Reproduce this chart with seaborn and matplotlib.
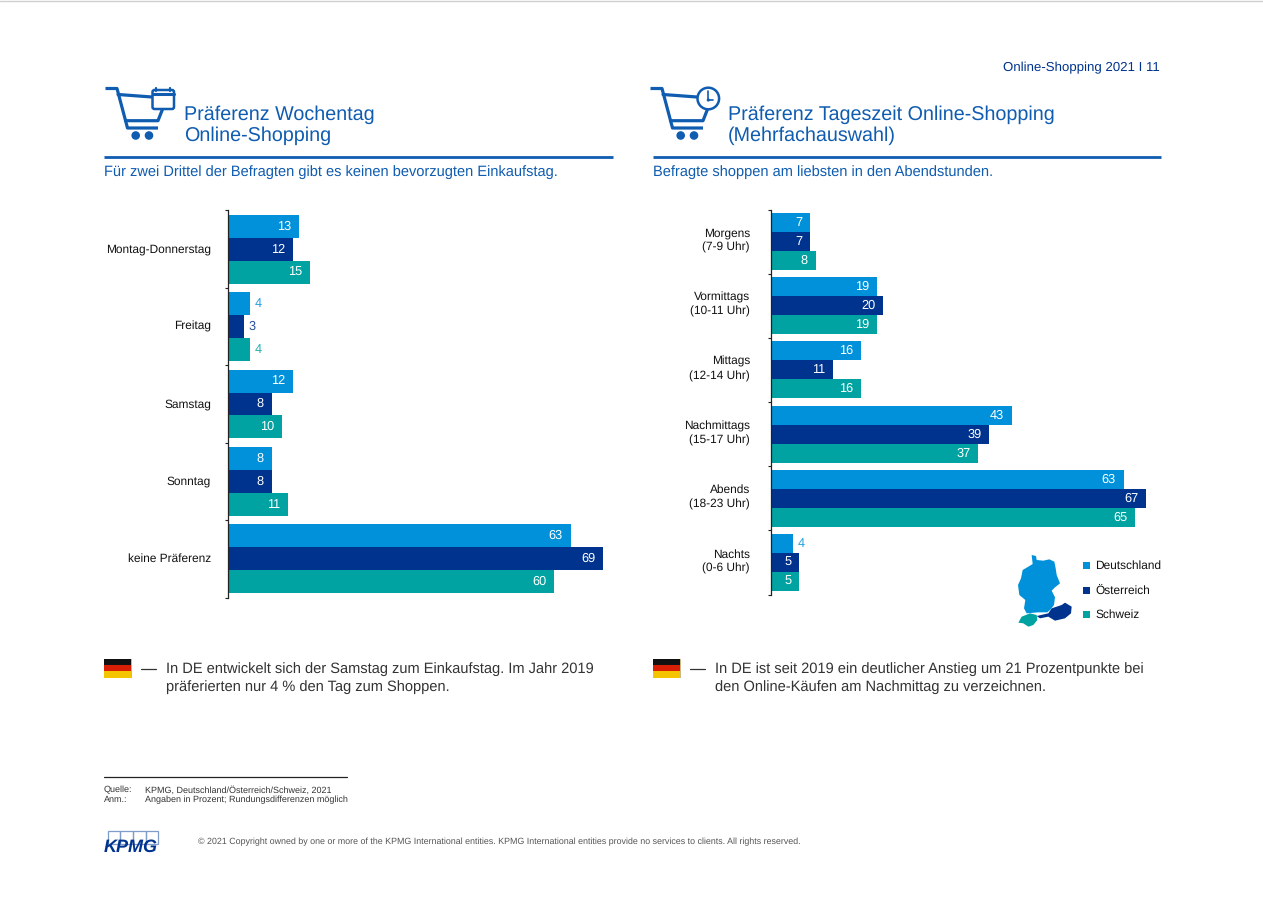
import numpy as np
import pandas as pd
import seaborn as sns
import matplotlib.pyplot as plt
from matplotlib.patches import Circle, Polygon, Rectangle, FancyBboxPatch

sns.set_theme(style="white")
plt.rcParams["font.family"] = ["Liberation Sans", "DejaVu Sans"]
plt.rcParams["text.hinting"] = "none"

# data
countries = ["Deutschland", "Österreich", "Schweiz"]
colors = ["#0091da", "#00338d", "#00a3a1"]

days = ["Montag-Donnerstag", "Freitag", "Samstag", "Sonntag", "keine Präferenz"]
days_de = [13, 4, 12, 8, 63]
days_at = [12, 3, 8, 8, 69]
days_ch = [15, 4, 10, 11, 60]

times = ["Morgens\n(7-9 Uhr)", "Vormittags\n(10-11 Uhr)", "Mittags\n(12-14 Uhr)",
         "Nachmittags\n(15-17 Uhr)", "Abends\n(18-23 Uhr)", "Nachts\n(0-6 Uhr)"]
times_de = [7, 19, 16, 43, 63, 4]
times_at = [7, 20, 11, 39, 67, 5]
times_ch = [8, 19, 16, 37, 65, 5]

W, H = 1263, 900
BLUE = "#0f5cb0"
DARK = "#333333"


def make_table(cats, de, at, ch):
    rows = []
    for land, vals in zip(countries, [de, at, ch]):
        for c, v in zip(cats, vals):
            rows.append({"cat": c, "land": land, "val": v})
    return pd.DataFrame(rows)


def bar_panel(fig, df, cats, x0, x1, y0, y1, px_per_unit, label_x, label_dy):
    ax = fig.add_axes([x0 / W, 1 - y1 / H, (x1 - x0) / W, (y1 - y0) / H])
    sns.barplot(data=df, y="cat", x="val", hue="land", order=cats, hue_order=countries,
                palette=colors, orient="h", width=0.89, gap=0, saturation=1,
                linewidth=0, legend=False, ax=ax)
    ax.set_xlim(0, (x1 - x0) / px_per_unit)
    ax.set_ylim(len(cats) - 0.5, -0.5)
    ax.set_xlabel("")
    ax.set_ylabel("")
    ax.xaxis.set_visible(False)
    for s in ["top", "right", "bottom"]:
        ax.spines[s].set_visible(False)
    ax.spines["left"].set_color("#222222")
    ax.spines["left"].set_linewidth(0.9)
    # ticks sit between the groups, labels at the group centres
    ax.set_yticks(np.arange(len(cats) + 1) - 0.5, minor=False)
    ax.set_yticklabels([])
    ax.tick_params(axis="y", left=True, length=2, width=0.8, color="#222222")
    for i, c in enumerate(cats):
        ax.annotate(c, xy=(label_x / W, 1 - (y0 + (i + 0.5) * (y1 - y0) / len(cats) + label_dy) / H),
                    xycoords="figure fraction", ha="right", va="center",
                    fontsize=8.55, color="#111111", linespacing=1.35)
    for cont, col in zip(ax.containers, colors):
        for rect in cont:
            v = rect.get_width()
            yc = rect.get_y() + rect.get_height() / 2
            if v < 4.5:
                # short bars get the label outside
                ax.annotate(f"{v:.0f}", (v, yc), xytext=(3.2, 0), textcoords="offset points",
                            ha="left", va="center", fontsize=9.2, color=col, alpha=0.85)
            else:
                ax.annotate(f"{v:.0f}", (v, yc), xytext=(-5.6, 0), textcoords="offset points",
                            ha="right", va="center", fontsize=9.2, color="white")
    return ax


def cart(ov, dx):
    lw = 2.3
    ov.plot(np.array([105.5, 117, 127.5, 158]) + dx, [88.5, 88.5, 128, 128], color=BLUE, lw=lw,
            solid_capstyle="butt", solid_joinstyle="round")
    ov.plot(np.array([118, 152]) + dx, [94.5, 97], color=BLUE, lw=lw)
    ov.plot(np.array([125.5, 158, 163]) + dx, [120.7, 120.7, 108], color=BLUE, lw=lw)
    ov.add_patch(Circle((135.7 + dx, 135.5), 4.3, color=BLUE, lw=0))
    ov.add_patch(Circle((149 + dx, 135.5), 4.3, color=BLUE, lw=0))


def calendar_badge(ov):
    ov.add_patch(FancyBboxPatch((152.5, 90), 21.5, 19, boxstyle="round,pad=0,rounding_size=2",
                                fc="white", ec=BLUE, lw=1.8, zorder=3))
    ov.plot([152.5, 174], [93.5, 93.5], color=BLUE, lw=2.2, zorder=4)
    ov.plot([155.5, 155.5], [87.5, 91], color=BLUE, lw=1.6, zorder=4)
    ov.plot([170, 170], [87.5, 91], color=BLUE, lw=1.6, zorder=4)


def clock_badge(ov):
    ov.add_patch(Circle((708.3, 98.5), 10.8, fc="white", ec=BLUE, lw=1.8, zorder=3))
    ov.plot([708.3, 708.3, 712.5], [91, 100, 100], color=BLUE, lw=1.2, zorder=4)
    ov.add_patch(Circle((708.3, 100), 1.6, color=BLUE, lw=0, zorder=4))


def flag(ov, x, y):
    w, h = 27, 18.5
    ov.add_patch(Rectangle((x - 0.5, y - 0.5), w + 1, h + 1, fc="#c9b88a", lw=0))
    for i, c in enumerate(["#111111", "#d81e05", "#f5c400"]):
        ov.add_patch(Rectangle((x, y + i * h / 3), w, h / 3, fc=c, lw=0))


def crop_poly(pts):
    # outline traced on a 3x crop with its corner at (1010, 550)
    return [(1010 + px / 3, 550 + py / 3) for px, py in pts]


fig = plt.figure(figsize=(W / 100, H / 100), dpi=100, facecolor="white")

bar_panel(fig, make_table(days, days_de, days_at, days_ch), days, 228, 620, 210.5, 597.5, 5.44, 211, 0)
bar_panel(fig, make_table(times, times_de, times_at, times_ch), times, 771, 1160, 209.5, 594.5, 5.6, 750, -1)

# overlay in pixel coordinates for headers, icons, footer
ov = fig.add_axes([0, 0, 1, 1], zorder=5)
ov.set_xlim(0, W)
ov.set_ylim(H, 0)
ov.axis("off")
ov.plot([0, W], [0.5, 0.5], color="#d0d0d0", lw=1)

ov.text(1160, 68, "Online-Shopping 2021 I 11", ha="right", va="center", fontsize=9.55, color="#00338d")

for x, l1, l2 in [(184, "Präferenz Wochentag", "Online-Shopping"),
                  (728, "Präferenz Tageszeit Online-Shopping", "(Mehrfachauswahl)")]:
    ov.text(x, 115, l1, ha="left", va="center", fontsize=14.2, color=BLUE)
    ov.text(x, 136, l2, ha="left", va="center", fontsize=14.2, color=BLUE)

ov.plot([104, 613], [156.5, 156.5], color=BLUE, lw=2.0, solid_capstyle="butt")
ov.plot([653, 1161], [156.5, 156.5], color=BLUE, lw=2.0, solid_capstyle="butt")
ov.text(104, 172, "Für zwei Drittel der Befragten gibt es keinen bevorzugten Einkaufstag.",
        ha="left", va="center", fontsize=10.5, color=BLUE)
ov.text(653, 172, "Befragte shoppen am liebsten in den Abendstunden.",
        ha="left", va="center", fontsize=10.5, color=BLUE)

cart(ov, 0)
cart(ov, 545)
calendar_badge(ov)
clock_badge(ov)

# legend with the DACH map
for y, col, name in zip([565.5, 590.5, 614.5], colors, countries):
    ov.add_patch(Rectangle((1083, y - 3.5), 7, 7, fc=col, lw=0))
    ov.text(1095, y + 0.5, name, ha="left", va="center", fontsize=8.55, color="#111111")

germany = [(65, 15), (78, 18), (80, 30), (100, 32), (118, 28), (133, 35), (137, 55), (140, 75),
           (150, 100), (135, 112), (125, 122), (135, 142), (132, 165), (122, 178), (112, 187),
           (85, 187), (50, 190), (42, 175), (46, 150), (28, 135), (24, 105), (33, 85), (38, 60),
           (55, 50), (68, 42)]
austria = [(80, 198), (115, 190), (125, 175), (155, 165), (165, 158), (185, 170), (183, 190),
           (165, 205), (135, 212), (115, 200), (90, 205)]
swiss = [(25, 218), (35, 200), (60, 190), (80, 195), (82, 210), (70, 225), (55, 230), (40, 220)]
ov.add_patch(Polygon(crop_poly(germany), fc=colors[0], ec="none"))
ov.add_patch(Polygon(crop_poly(austria), fc=colors[1], ec="none"))
ov.add_patch(Polygon(crop_poly(swiss), fc=colors[2], ec="none"))

# notes below the charts
flag(ov, 104, 659)
flag(ov, 653, 659)
ov.plot([141, 156], [669, 669], color=DARK, lw=0.9)
ov.plot([690, 705], [669, 669], color=DARK, lw=0.9)
ov.text(166, 669, "In DE entwickelt sich der Samstag zum Einkaufstag. Im Jahr 2019",
        ha="left", va="center", fontsize=10.53, color=DARK)
ov.text(166, 687, "präferierten nur 4 % den Tag zum Shoppen.",
        ha="left", va="center", fontsize=10.53, color=DARK)
ov.text(715, 669, "In DE ist seit 2019 ein deutlicher Anstieg um 21 Prozentpunkte bei",
        ha="left", va="center", fontsize=10.53, color=DARK)
ov.text(715, 687, "den Online-Käufen am Nachmittag zu verzeichnen.",
        ha="left", va="center", fontsize=10.53, color=DARK)

# footer
ov.plot([104, 347], [777, 777], color="#222222", lw=0.9)
for y, a, b in [(790, "Quelle:", "KPMG, Deutschland/Österreich/Schweiz, 2021"),
                (800, "Anm.:", "Angaben in Prozent; Rundungsdifferenzen möglich")]:
    ov.text(104, y, a, ha="left", va="center", fontsize=6.45, color=DARK)
    ov.text(145, y, b, ha="left", va="center", fontsize=6.45, color=DARK)

for i in range(4):
    ov.add_patch(Rectangle((107.7 + i * 12.65, 830.5), 12.65, 13, fc="none", ec="#7f9cc8", lw=0.9))
ov.text(104, 847, "KPMG", ha="left", va="center", fontsize=13, fontweight="bold",
        fontstyle="italic", color="#00338d")
ov.text(198, 842, "© 2021 Copyright owned by one or more of the KPMG International entities. "
        "KPMG International entities provide no services to clients. All rights reserved.",
        ha="left", va="center", fontsize=6.37, color="#555555")

fig.savefig("out.png", dpi=100)
